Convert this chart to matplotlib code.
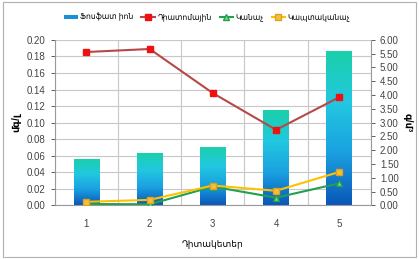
import numpy as np
import matplotlib
matplotlib.use("Agg")
import matplotlib.pyplot as plt
from matplotlib.colors import LinearSegmentedColormap
from matplotlib.patches import Rectangle
from matplotlib.lines import Line2D

plt.rcParams['font.family'] = ['Liberation Sans', 'DejaVu Sans']

categories = ["1", "2", "3", "4", "5"]
phosphate = [0.056, 0.063, 0.071, 0.115, 0.187]
diatom = [5.56, 5.67, 4.07, 2.74, 3.92]
green = [0.05, 0.04, 0.68, 0.28, 0.80]
bluegreen = [0.13, 0.20, 0.72, 0.53, 1.21]
left_ticks = [0.00, 0.02, 0.04, 0.06, 0.08, 0.10, 0.12, 0.14, 0.16, 0.18, 0.20]
right_ticks = [0.0, 0.5, 1.0, 1.5, 2.0, 2.5, 3.0, 3.5, 4.0, 4.5, 5.0, 5.5, 6.0]

names = ["Ֆոսֆատ իոն", "Դիատոմային", "Կանաչ", "Կապտականաչ"]

fig = plt.figure(figsize=(4.19, 2.59), dpi=100)
fig.patches.append(Rectangle((0.006, 0.008), 0.988, 0.985, transform=fig.transFigure,
                             fill=False, edgecolor="#b0b0b0", linewidth=0.8))
ax = fig.add_axes([0.131, 0.207, 0.754, 0.639])
ax2 = ax.twinx()

x = np.arange(len(categories))
cmap = LinearSegmentedColormap.from_list("g", ["#0a56b8", "#1aa0e0", "#22c8e0", "#1ad0a8"])
bars = ax.bar(x, phosphate, width=0.41, color="none", zorder=2)
grad = np.linspace(0, 1, 256).reshape(-1, 1)
for b in bars:
    bx, by = b.get_x(), b.get_y()
    w, h = b.get_width(), b.get_height()
    im = ax.imshow(grad, cmap=cmap, origin="lower", aspect="auto",
                   extent=[bx, bx + w, by, by + h], zorder=2)
    im.set_clip_path(b)

ax.set_xlim(-0.5, 4.5)
ax.set_ylim(0, 0.2)
ax.set_yticks(left_ticks)
ax.set_yticklabels([f"{v:.2f}" for v in left_ticks])
ax.set_xticks(x)
ax.set_xticklabels(categories)
ax.set_xticks(np.arange(-0.5, 5, 1), minor=True)
ax.grid(True, axis="y", color="#c8c8c8", linewidth=0.8, zorder=0)
ax.grid(True, axis="x", which="minor", color="#c8c8c8", linewidth=0.8, zorder=0)
ax.tick_params(axis="x", which="both", length=0, labelsize=7, colors="#444444", pad=10)
ax.tick_params(axis="y", length=3, labelsize=7, colors="#444444", width=0.6)
for s in ["top", "right"]:
    ax.spines[s].set_visible(False)
ax.spines["left"].set_color("#999999")
ax.spines["bottom"].set_color("#999999")
ax.set_ylabel("մգ/լ", fontsize=7, fontweight="bold", labelpad=4)
ax.set_xlabel("Դիտակետեր", fontsize=6.5, labelpad=8)

ax2.plot(x, diatom, color="#b84848", linewidth=1.5, marker="s", markersize=5,
         markerfacecolor="#ee1111", markeredgecolor="#ee1111", zorder=4)
ax2.plot(x, green, color="#22a050", linewidth=1.5, marker="^", markersize=5,
         markerfacecolor="#7ed08a", markeredgecolor="#22a050", zorder=4)
ax2.plot(x, bluegreen, color="#ffc000", linewidth=1.5, marker="s", markersize=5,
         markerfacecolor="#f5c040", markeredgecolor="#e0a020", zorder=5)
ax2.set_ylim(0, 6)
ax2.set_yticks(right_ticks)
ax2.set_yticklabels([f"{v:.2f}" for v in right_ticks])
ax2.tick_params(axis="y", length=3, labelsize=7, colors="#444444", width=0.6)
for s in ["top", "left", "bottom"]:
    ax2.spines[s].set_visible(False)
ax2.spines["right"].set_color("#999999")
ax2.set_ylabel("գ/մ³", fontsize=7, fontweight="bold", rotation=-90, labelpad=10)

handles = [
    Rectangle((0, 0), 1, 1, facecolor="#1a90d8", edgecolor="none"),
    Line2D([], [], color="#b84848", marker="s", markersize=4, markerfacecolor="#ee1111", markeredgecolor="#ee1111"),
    Line2D([], [], color="#22a050", marker="^", markersize=4, markerfacecolor="#7ed08a"),
    Line2D([], [], color="#ffc000", marker="s", markersize=4, markerfacecolor="#f5c040", markeredgecolor="#e0a020"),
]
fig.legend(handles, names, loc="center", bbox_to_anchor=(0.495, 0.932), ncol=4, frameon=False,
           fontsize=5.5, handlelength=1.8, handletextpad=0.3, columnspacing=1.0,
           handleheight=0.5)

fig.savefig("out.png", dpi=100)
